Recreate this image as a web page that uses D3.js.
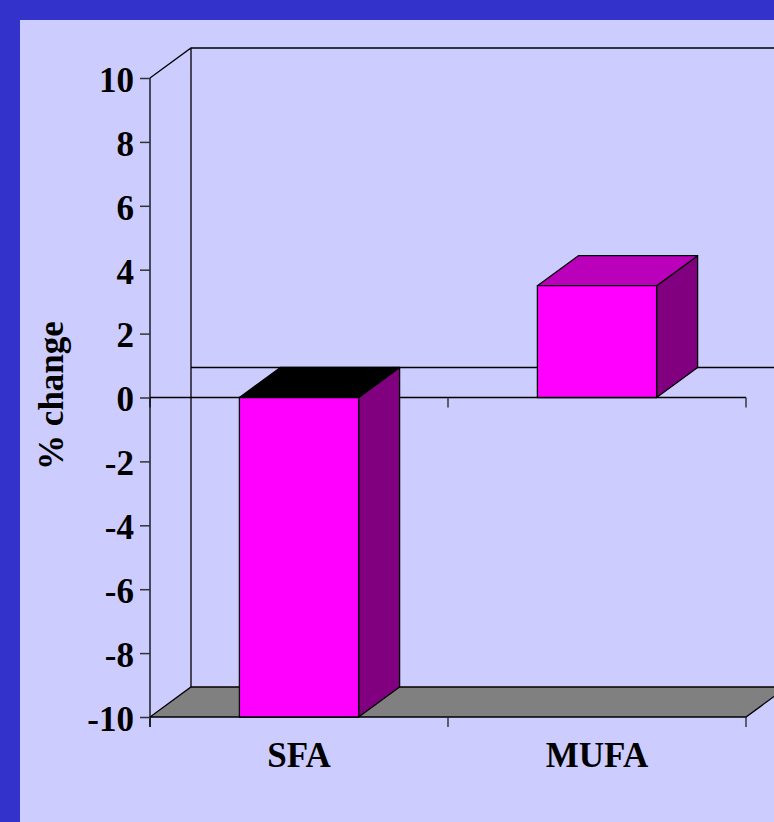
<!DOCTYPE html>
<html><head><meta charset="utf-8">
<script src="https://cdn.jsdelivr.net/npm/d3@7"></script>
<style>html,body{margin:0;padding:0;background:#3333cc;overflow:hidden}</style>
</head><body>
<script>
const categories = ["SFA", "MUFA"];
const values = [-10, 3.5];
const yTicks = [-10, -8, -6, -4, -2, 0, 2, 4, 6, 8, 10];
const yTitle = "% change";

const W = 774, H = 822;
const svg = d3.select("body").append("svg").attr("width", W).attr("height", H)
  .style("display", "block");
svg.append("rect").attr("x", 0).attr("y", 0).attr("width", W).attr("height", H).attr("fill", "#3333cc");
svg.append("rect").attr("x", 20).attr("y", 20).attr("width", W - 20).attr("height", H - 20).attr("fill", "#ccccff");

const y = d3.scaleLinear().domain([-10, 10]).range([717, 78]);
const x = d3.scaleBand().domain(categories).range([150, 746]).padding(0);
const dx = 41, dy = -30;
const barW = x.bandwidth() * 0.4;
const font = "'Liberation Serif','Times New Roman',serif";
const g = svg.append("g");

// back wall
const y0 = y(-10), yTop = y(10), x0 = x.range()[0], x1 = x.range()[1];
g.append("path").attr("fill", "none").attr("stroke", "#000").attr("stroke-width", 1.3)
  .attr("d", `M${x0},${yTop}L${x0 + dx},${yTop + dy}L${W + 5},${yTop + dy}M${x0 + dx},${yTop + dy}L${x0 + dx},${y0 + dy}`);

// floor
g.append("path").attr("fill", "#808080").attr("stroke", "#000").attr("stroke-width", 1.3)
  .attr("d", `M${x0},${y0}L${x1},${y0}L${x1 + dx},${y0 + dy}L${x0 + dx},${y0 + dy}Z`);

// zero lines
g.append("line").attr("x1", x0 + dx).attr("x2", W + 5).attr("y1", y(0) + dy).attr("y2", y(0) + dy)
  .attr("stroke", "#000").attr("stroke-width", 1.3);
g.append("line").attr("x1", x0).attr("x2", x1).attr("y1", y(0)).attr("y2", y(0))
  .attr("stroke", "#000").attr("stroke-width", 1.3);

// category ticks at zero line and at floor
const catEdges = [x0, x0 + x.step(), x1];
catEdges.forEach(cx => {
  [y(0), y0].forEach(yy => {
    g.append("line").attr("x1", cx).attr("x2", cx).attr("y1", yy).attr("y2", yy + 10)
      .attr("stroke", "#222").attr("stroke-width", 1.3);
  });
});

// y axis
const yAxis = d3.axisLeft(y).tickValues(yTicks).tickSize(10).tickPadding(5).tickFormat(d => String(d));
const ya = g.append("g").attr("transform", `translate(${x0},0)`).call(yAxis);
ya.select(".domain").attr("stroke", "#000").attr("stroke-width", 1.3).attr("d", `M0,${yTop}V${y0 + 10}`);
ya.selectAll(".tick line").attr("stroke", "#333").attr("stroke-width", 1.5);
ya.selectAll(".tick text").attr("font-family", font).attr("font-weight", "bold").attr("font-size", 35)
  .attr("fill", "#000").attr("dy", "0.38em").attr("x", -16);

// bars
const topColors = { neg: "#000000", pos: "#bb00bb" };
categories.forEach((c, i) => {
  const v = values[i];
  const bx = x(c) + (x.bandwidth() - barW) / 2;
  const yA = y(Math.max(0, v)), yB = y(Math.min(0, v));
  const bg = g.append("g").attr("stroke", "#000").attr("stroke-width", 1.3).attr("stroke-linejoin", "round");
  // side
  bg.append("path").attr("fill", "#800080")
    .attr("d", `M${bx + barW},${yA}L${bx + barW + dx},${yA + dy}L${bx + barW + dx},${yB + dy}L${bx + barW},${yB}Z`);
  // top
  bg.append("path").attr("fill", v < 0 ? topColors.neg : topColors.pos)
    .attr("d", `M${bx},${yA}L${bx + dx},${yA + dy}L${bx + barW + dx},${yA + dy}L${bx + barW},${yA}Z`);
  // front
  bg.append("rect").attr("x", bx).attr("y", yA).attr("width", barW).attr("height", yB - yA).attr("fill", "#ff00ff");
});

// category labels
categories.forEach(c => {
  g.append("text").attr("x", x(c) + x.bandwidth() / 2).attr("y", 767)
    .attr("text-anchor", "middle").attr("font-family", font).attr("font-weight", "bold")
    .attr("font-size", 35).attr("fill", "#000").text(c);
});

// y title
g.append("text").attr("transform", `translate(63,${(y(-10) + y(10)) / 2 - 2}) rotate(-90)`)
  .attr("text-anchor", "middle").attr("font-family", font).attr("font-weight", "bold")
  .attr("font-size", 35).attr("fill", "#000").text(yTitle);
</script>
</body></html>
